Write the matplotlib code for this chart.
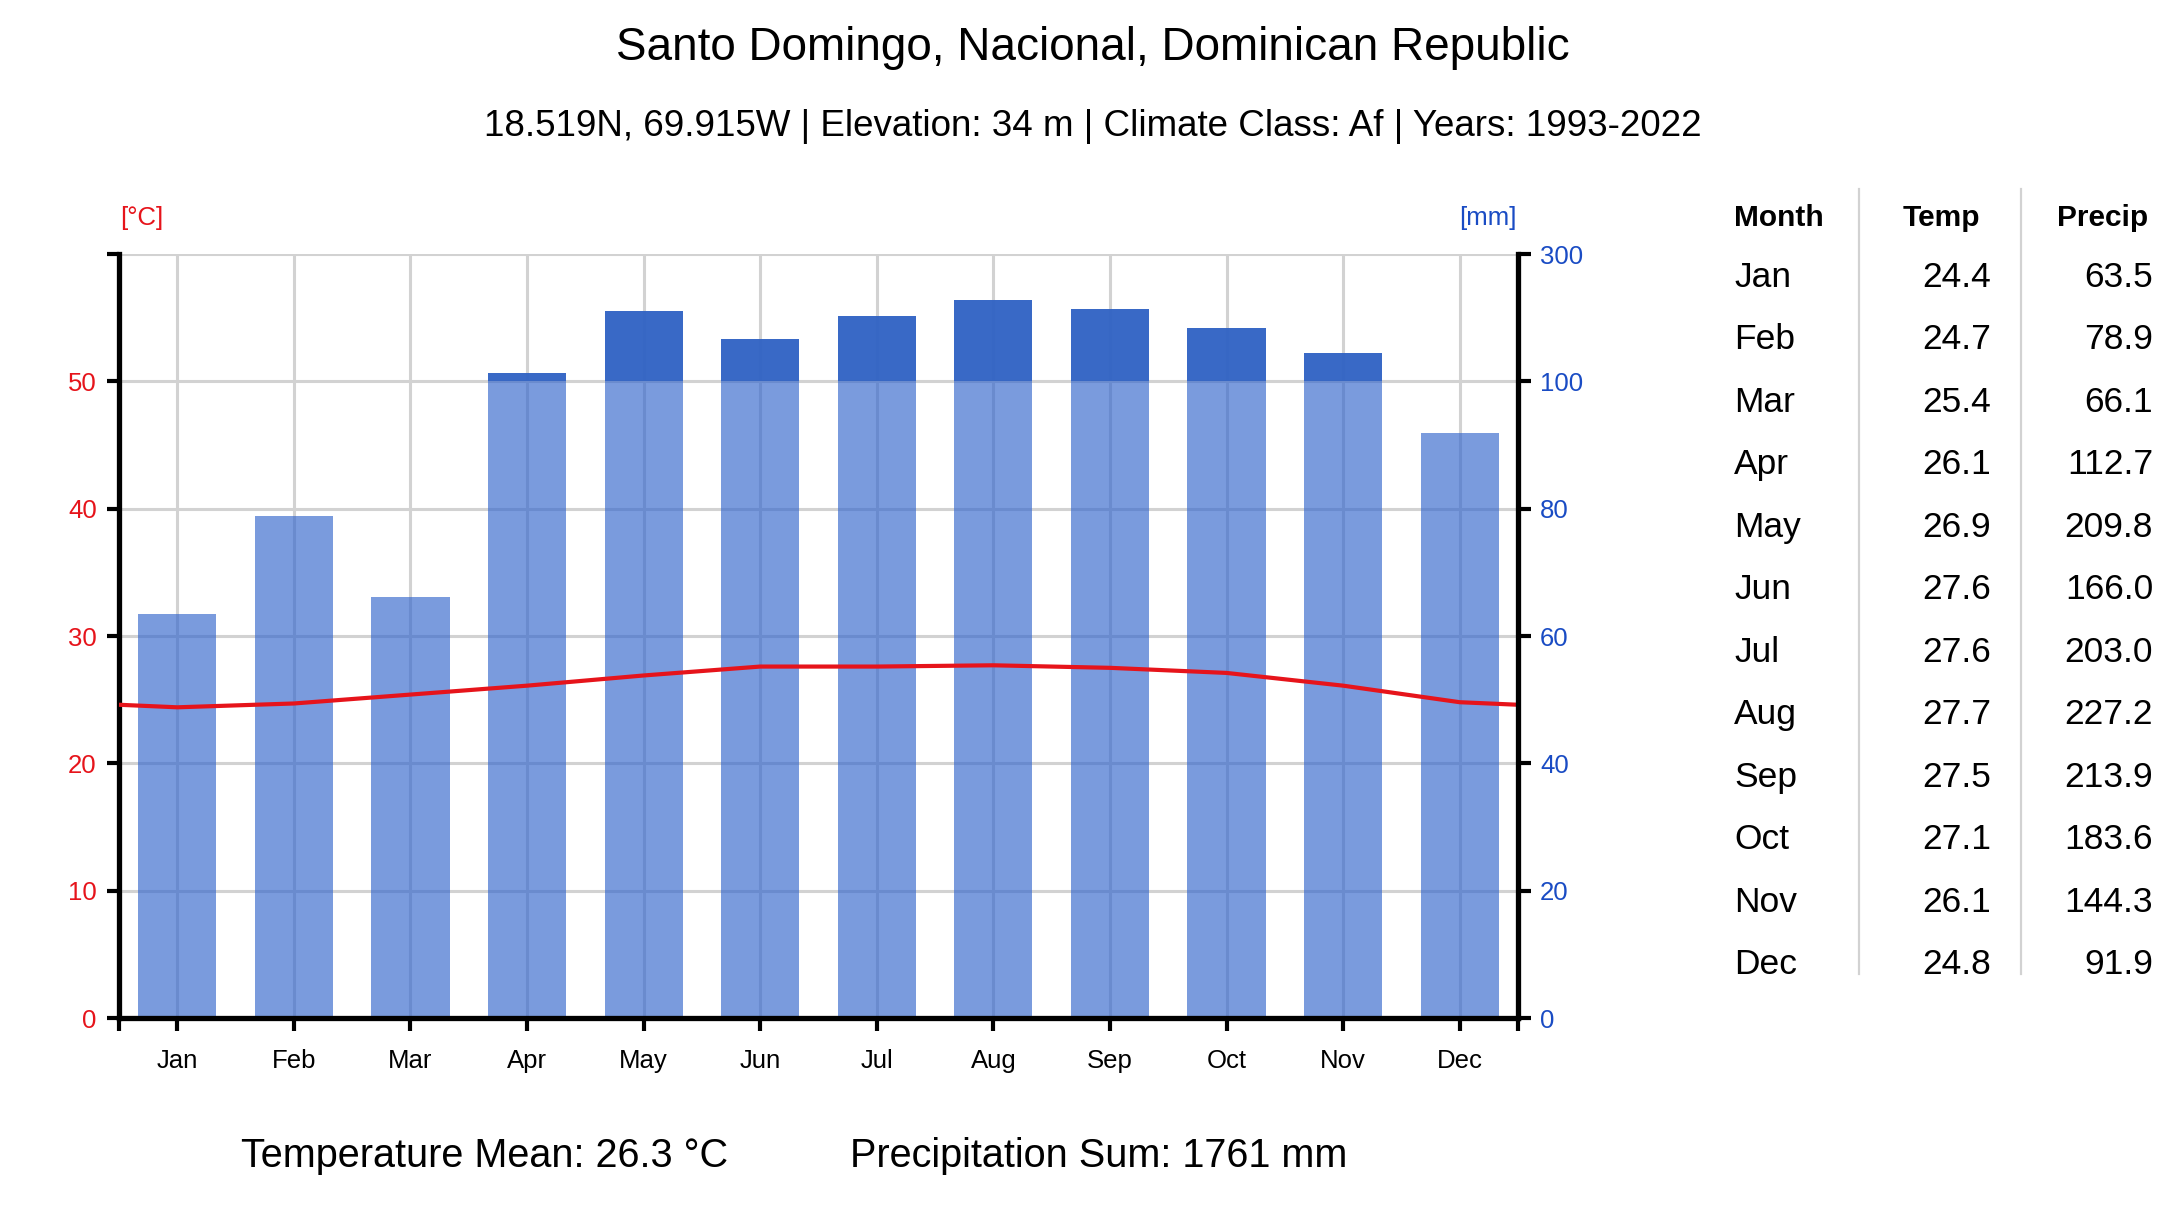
import matplotlib
matplotlib.use("Agg")
import matplotlib.pyplot as plt
from matplotlib.lines import Line2D

plt.rcParams['font.family'] = ['Liberation Sans', 'DejaVu Sans']

# ---- data ----
months = ["Jan", "Feb", "Mar", "Apr", "May", "Jun", "Jul", "Aug", "Sep", "Oct", "Nov", "Dec"]
temp = [24.4, 24.7, 25.4, 26.1, 26.9, 27.6, 27.6, 27.7, 27.5, 27.1, 26.1, 24.8]
precip = [63.5, 78.9, 66.1, 112.7, 209.8, 166.0, 203.0, 227.2, 213.9, 183.6, 144.3, 91.9]
temp_ticks = [0, 10, 20, 30, 40, 50, 60]
temp_tick_labels = ["0", "10", "20", "30", "40", "50", ""]
precip_ticks = [0, 20, 40, 60, 80, 100, 300]
title = "Santo Domingo, Nacional, Dominican Republic"
subtitle = "18.519N, 69.915W | Elevation: 34 m | Climate Class: Af | Years: 1993-2022"

RED = '#e6141b'
BLUE_TXT = '#1a4cc4'
BAR = '#3366cc'
BAR_DARK = '#3264c4'
GRID = '#d2d2d2'

W, H = 2184, 1207
fig = plt.figure(figsize=(W / 100, H / 100), dpi=100)


def fx(px):
    return px / W


def fy(py):
    return 1 - py / H


def p2t(p):
    """precipitation (mm) -> temperature-axis units (Walter-Lieth scaling)"""
    return p / 2.0 if p <= 100 else 50 + (p - 100) / 20.0


ax_l, ax_r, ax_t, ax_b = 119, 1518, 254, 1018
ax = fig.add_axes([fx(ax_l), fy(ax_b), fx(ax_r - ax_l), (ax_b - ax_t) / H])
ax.set_xlim(0, 12)
ax.set_ylim(0, 60)

xc = [i + 0.5 for i in range(12)]
# bars
low = [p2t(min(p, 100)) for p in precip]
ax.bar(xc, low, width=0.67, color=BAR, alpha=0.65, zorder=2, linewidth=0)
high_h = [p2t(p) - 50 if p > 100 else 0 for p in precip]
ax.bar(xc, high_h, bottom=50, width=0.67, color=BAR_DARK, alpha=0.97, zorder=2, linewidth=0)

# temperature line (wrapped at edges)
edge = (temp[0] + temp[-1]) / 2
ax.plot([0] + xc + [12], [edge] + temp + [edge], color=RED, lw=3.0, zorder=3,
        solid_joinstyle='round')

# grid
ax.set_yticks(temp_ticks)
ax.set_yticklabels(temp_tick_labels)
ax.set_xticks(xc)
ax.set_xticklabels(months)
ax.set_xticks([0, 12], minor=True)
ax.grid(True, which='major', color=GRID, lw=2.2, zorder=0)
ax.set_axisbelow(True)

for s in ['top', 'right']:
    ax.spines[s].set_visible(False)
for s in ['left', 'bottom']:
    ax.spines[s].set_linewidth(3.8)
    ax.spines[s].set_color('black')

ax.tick_params(axis='y', which='major', direction='out', length=9, width=3,
               labelsize=18.5, labelcolor=RED, pad=7)
ax.tick_params(axis='x', which='both', direction='out', length=9, width=3,
               labelsize=18.5, labelcolor='black', pad=13)

ax2 = ax.twinx()
ax2.set_ylim(0, 60)
ax2.set_yticks([p2t(p) for p in precip_ticks])
ax2.set_yticklabels([str(p) for p in precip_ticks])
for s in ['top', 'left', 'bottom']:
    ax2.spines[s].set_visible(False)
ax2.spines['right'].set_linewidth(3.8)
ax2.tick_params(axis='y', direction='out', length=9, width=3, labelsize=18.5,
                labelcolor=BLUE_TXT, pad=7)

# axis unit labels
fig.text(fx(120), fy(225), "[°C]", color=RED, fontsize=18.5, ha='left', va='baseline')
fig.text(fx(1517), fy(225), "[mm]", color=BLUE_TXT, fontsize=18.5, ha='right', va='baseline')

# titles
fig.text(fx(1093), fy(60), title, fontsize=33, ha='center', va='baseline')
fig.text(fx(1093), fy(136), subtitle, fontsize=26.5, ha='center', va='baseline')

# bottom summary
t_mean = sum(temp) / len(temp)
p_sum = sum(precip)
fig.text(fx(241), fy(1167), f"Temperature Mean: {t_mean:.1f} °C", fontsize=28.5,
         ha='left', va='baseline')
fig.text(fx(850), fy(1167), f"Precipitation Sum: {p_sum:.0f} mm", fontsize=28.5,
         ha='left', va='baseline')

# table
hdr_base = 226
fig.text(fx(1734), fy(hdr_base), "Month", fontsize=21.5, fontweight='bold', ha='left', va='baseline')
fig.text(fx(1941), fy(hdr_base), "Temp", fontsize=21.5, fontweight='bold', ha='center', va='baseline')
fig.text(fx(2103), fy(hdr_base), "Precip", fontsize=21.5, fontweight='bold', ha='center', va='baseline')
row0, dy = 287, 62.45
for i, m in enumerate(months):
    yb = row0 + i * dy
    fig.text(fx(1734), fy(yb), m, fontsize=25.5, ha='left', va='baseline')
    fig.text(fx(1991), fy(yb), f"{temp[i]:.1f}", fontsize=25.5, ha='right', va='baseline')
    fig.text(fx(2153), fy(yb), f"{precip[i]:.1f}", fontsize=25.5, ha='right', va='baseline')
for xs in (1859, 2021):
    fig.add_artist(Line2D([fx(xs), fx(xs)], [fy(189), fy(974)], color=GRID, lw=1.6,
                          transform=fig.transFigure))

fig.savefig("out.png", dpi=100)
